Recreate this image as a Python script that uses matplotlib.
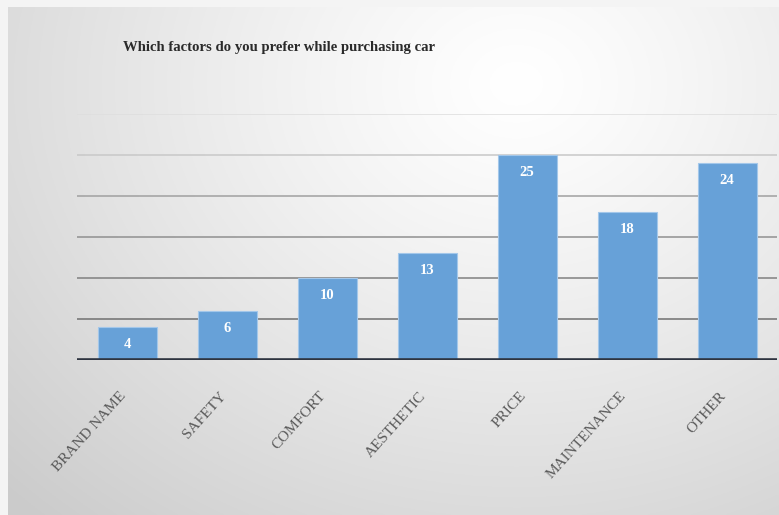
import numpy as np
import matplotlib.pyplot as plt
import matplotlib.transforms as mtrans

# survey answers
categories = ['BRAND NAME', 'SAFETY', 'COMFORT', 'AESTHETIC', 'PRICE', 'MAINTENANCE', 'OTHER']
counts = [4, 6, 10, 13, 25, 18, 24]
y_ticks = [0, 5, 10, 15, 20, 25, 30]
title = 'Which factors do you prefer while purchasing car'

W, H = 779, 515
fig = plt.figure(figsize=(W / 100, H / 100), dpi=100)
fig.patch.set_facecolor('#f4f4f4')

# radial gradient backdrop (light spot top right, greyer to the edges)
bg = fig.add_axes([8 / W, 0, 1 - 8 / W, (H - 7) / H])
bg.set_axis_off()
gx, gy = np.meshgrid(np.linspace(0, 1, 400), np.linspace(0, 1, 300))
r = np.sqrt(((gx - 0.66) / 0.8) ** 2 + ((gy - 0.15) / 1.0) ** 2)
shade = 1.0 - 0.17 * np.clip(r, 0, 1.15) ** 1.2
bg.imshow(np.dstack([shade] * 3), extent=(0, 1, 0, 1), aspect='auto', origin='upper')
bg.set_xlim(0, 1)
bg.set_ylim(0, 1)

ax = fig.add_axes([77 / W, (H - 360) / H, 700 / W, 246 / H])
ax.patch.set_alpha(0)
x = np.arange(len(categories))

#Gridlines, lighter near the top
grid_cols = {5: '#707070', 10: '#808080', 15: '#909090', 20: '#a0a0a0', 25: '#c8c8c8', 30: '#dedede'}
for t in y_ticks[1:]:
    ax.axhline(t, color=grid_cols[t], lw=1.1, zorder=1)
ax.axhline(0, color='#2e3440', lw=2.6, zorder=3)

bars = ax.bar(x, counts, width=0.59, color='#67a1d8', edgecolor='#a3c7ea', linewidth=0.8, zorder=2)
for xi, v in zip(x, counts):
    ax.text(xi, v - 2.1, str(v), ha='center', va='center', color='white',
            fontsize=10.5, fontweight='bold', family='Liberation Serif', zorder=4)

ax.set_xlim(-0.5, 6.5)
ax.set_ylim(0, 30)
ax.set_yticks([])
ax.set_xticks(x)
ax.set_xticklabels(categories, rotation=48, ha='right', rotation_mode='anchor',
                   family='Liberation Serif', fontsize=11, color='#5a5a5a')
ax.tick_params(axis='x', length=0, pad=21)
shift = mtrans.ScaledTranslation(-8 / 100, 0, fig.dpi_scale_trans)
for lab in ax.get_xticklabels():
    lab.set_transform(lab.get_transform() + shift)
for s in ax.spines.values():
    s.set_visible(False)

fig.text(123 / W, 1 - 48 / H, title, ha='left', va='center', fontsize=10.6,
         fontweight='bold', family='Liberation Serif', color='#2a2a2a')

fig.savefig('out.png', dpi=100)
